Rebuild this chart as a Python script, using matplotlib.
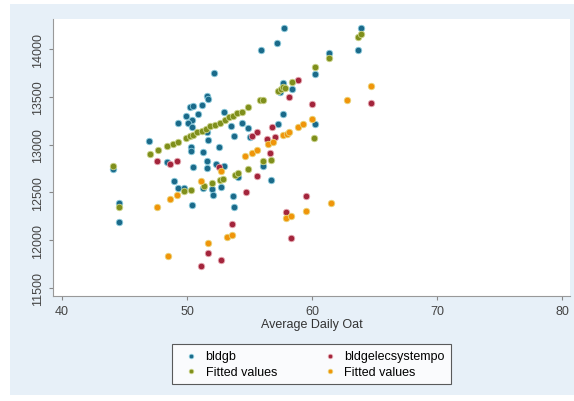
import matplotlib.pyplot as plt
from matplotlib.patches import Rectangle

plt.rcParams["font.family"] = ["Liberation Sans", "DejaVu Sans"]

# bldgb
bldgb_x = [44.04, 44.58, 44.58, 46.98, 48.38, 48.96, 49.24, 49.78, 49.30, 49.92,
           50.24, 50.46, 50.38, 50.10, 50.38, 50.30, 50.32, 50.38, 50.46, 50.90,
           51.18, 51.58, 51.64, 51.30, 51.58, 51.70, 51.58, 51.58, 51.30, 51.98,
           52.06, 52.16, 52.32, 52.56, 52.72, 52.98, 52.98, 53.48, 53.70, 53.78,
           53.78, 54.10, 54.38, 54.90, 55.04, 55.90, 56.10, 56.70, 57.22, 57.30,
           57.72, 57.66, 57.66, 57.44, 58.40, 60.18, 60.18, 61.36, 63.66, 63.92]
bldgb_y = [12740, 12386, 12193, 13041, 12815, 12622, 12546, 12551, 13223, 13304,
           13390, 13401, 13260, 13226, 13187, 12972, 12936, 12368, 12769, 13320,
           13414, 13512, 13472, 12919, 13129, 13051, 12825, 12755, 12543, 12536,
           12476, 13746, 12797, 12972, 12553, 13338, 12773, 13195, 12459, 12344,
           13087, 12658, 13226, 13171, 13076, 13993, 12779, 12630, 14063, 13216,
           14217, 13644, 13323, 13550, 13582, 13738, 13219, 13955, 13986, 14223]

# bldgelecsystempo
elec_x = [47.62, 48.60, 49.22, 52.58, 53.62, 51.70, 52.72, 51.10, 54.72, 55.56,
          55.58, 55.18, 56.38, 56.78, 57.04, 56.64, 58.86, 58.18, 60.00, 64.72,
          59.52, 57.90, 58.32]
elec_y = [12825, 12792, 12825, 12769, 12170, 11866, 11788, 11733, 12509, 12675,
          13129, 13087, 13059, 13181, 13076, 12907, 13679, 13495, 13422, 13438,
          12457, 12300, 12023]

# fitted values, bldgb
fit1_x = [44.04, 44.58, 47.04, 47.70, 48.38, 48.90, 49.30, 49.92, 50.24, 50.50,
          50.78, 51.18, 51.52, 51.84, 52.24, 52.64, 53.04, 53.38, 53.66, 53.98,
          54.38, 54.90, 55.84, 56.06, 57.30, 57.50, 57.66, 57.84, 58.40, 60.18,
          61.36, 63.66, 63.92, 49.78, 50.30, 51.36, 52.02, 52.64, 52.88, 53.84,
          54.10, 54.90, 56.06, 56.70, 60.14]
fit1_y = [12776, 12350, 12902, 12944, 12982, 13006, 13024, 13066, 13087, 13100,
          13129, 13145, 13163, 13191, 13205, 13226, 13257, 13286, 13302, 13331,
          13344, 13390, 13470, 13470, 13564, 13582, 13599, 13589, 13652, 13809,
          13903, 14129, 14157, 12512, 12528, 12564, 12595, 12630, 12640, 12685,
          12700, 12745, 12825, 12842, 13072]

# fitted values, bldgelecsystempo
fit2_x = [47.62, 48.44, 48.60, 49.20, 51.10, 51.70, 52.68, 53.18, 53.62, 54.64,
          55.18, 55.60, 56.50, 56.90, 57.70, 57.98, 58.18, 58.90, 59.26, 60.00,
          62.78, 64.72, 61.52, 59.52, 57.90, 58.32]
fit2_y = [12350, 11830, 12431, 12476, 12617, 11967, 12727, 12030, 12049, 12876,
          12917, 12944, 13006, 13024, 13100, 13111, 13135, 13181, 13216, 13268,
          13470, 13616, 12386, 12303, 12237, 12256]

W, H = 574, 402
fig = plt.figure(figsize=(W / 100, H / 100), dpi=100, facecolor="white")
fig.patches.append(Rectangle((10 / W, 6 / H), (W - 10) / W, (H - 11) / H,
                             transform=fig.transFigure, facecolor="#e7f0f8",
                             edgecolor="none", zorder=-1))

ax = fig.add_axes([53 / W, (H - 297) / H, (570 - 53) / W, (297 - 20) / H])
ax.set_facecolor("white")

marker = {"s": 22, "linewidths": 0.6, "zorder": 3}
ax.scatter(bldgb_x, bldgb_y, color="#1b6a8a", edgecolors="#8ccbdc", label="bldgb", **marker)
ax.scatter(elec_x, elec_y, color="#a3253c", edgecolors="#e6aab2",
           label="bldgelecsystempo", **marker)
ax.scatter(fit1_x, fit1_y, color="#7f8f1c", edgecolors="#cbd38a",
           label="Fitted values", **marker)
ax.scatter(fit2_x, fit2_y, color="#f0950a", edgecolors="#ead47a",
           label="Fitted values", **marker)

ax.set_xlim(39.28, 80.6)
ax.set_ylim(11416, 14314)
ax.set_xticks([40, 50, 60, 70, 80])
ax.set_yticks([11500, 12000, 12500, 13000, 13500, 14000])
ax.tick_params(colors="#888888", labelcolor="#444444", labelsize=9, length=3)
for label in ax.get_yticklabels():
    label.set_rotation(90)
    label.set_va("center")
for side in ("top", "right"):
    ax.spines[side].set_visible(False)
for side in ("left", "bottom"):
    ax.spines[side].set_color("#999999")
ax.set_xlabel("Average Daily Oat", fontsize=9, color="#333333", labelpad=1)

handles, labels = ax.get_legend_handles_labels()
order = [0, 2, 1, 3]
leg = fig.legend([handles[i] for i in order], [labels[i] for i in order],
                 ncol=2, loc="center",
                 bbox_to_anchor=((178 + 445) / 2 / W, 1 - (343 + 387) / 2 / H),
                 fontsize=9, frameon=True, fancybox=False, edgecolor="#333333",
                 handletextpad=0.2, columnspacing=3.2, labelspacing=0.25,
                 markerscale=0.7, borderpad=0.5)
leg.get_frame().set_linewidth(0.8)

fig.savefig("out.png", dpi=100)
